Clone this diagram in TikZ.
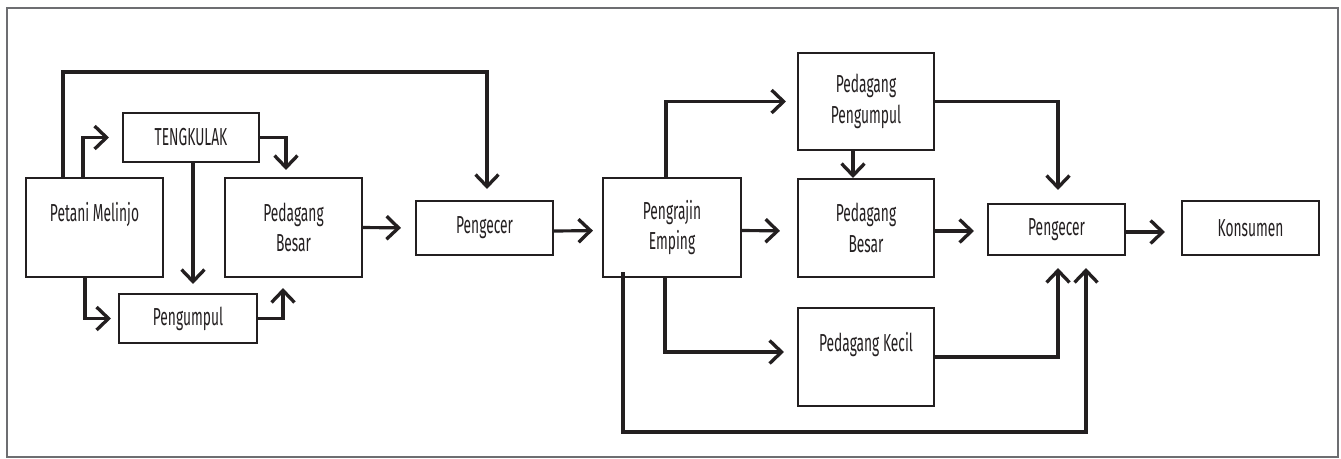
\documentclass[tikz,border=0pt]{standalone}
\usepackage{fontspec}
\setmainfont{Fira Sans}[FakeStretch=0.56]
\usetikzlibrary{arrows.meta,calc}

\definecolor{ink}{HTML}{231F20}
\definecolor{rim}{HTML}{6D6E71}

\tikzset{
  unit/.style={draw=ink, line width=1.2pt, align=center, inner sep=0pt,
    text=ink, font=\fontsize{14}{17.5}\selectfont,
    minimum width=2.74cm, minimum height=0.98cm},
  flow/.style={draw=ink, line width=1.8pt,
    -{Straight Barb[length=2.4mm,width=4.6mm,line width=1.9pt]}}
}

\begin{document}
\begin{tikzpicture}[x=0.02cm,y=-0.02cm]
  \useasboundingbox (0,0) rectangle (1341,458);
  \draw[rim, line width=1pt] (7,8) rectangle (1338,457);

  % first chain
  \node[unit, minimum height=1.98cm] (petani) at (94.5,227.5) {Petani Melinjo\\\mbox{}};
  \node[unit, minimum width=2.72cm] (tengkulak) at (191,137.5) {TENGKULAK};
  \node[unit, minimum height=1.98cm] (besarA) at (293.5,227.5) {Pedagang\\Besar};
  \node[unit, minimum width=2.76cm] (pengumpul) at (188,318.5) {Pengumpul};
  \node[unit, minimum height=1.08cm] (pengecerA) at (484.5,228) {Pengecer};

  % second chain
  \node[unit, minimum width=2.76cm, minimum height=1.98cm] (pengrajin) at (672,227.5) {Pengrajin\\Emping};
  \node[unit, minimum width=2.72cm, minimum height=1.94cm] (pedPengumpul) at (866,101.5) {Pedagang\\Pengumpul};
  \node[unit, minimum width=2.72cm, minimum height=1.96cm] (besarB) at (866,228) {Pedagang\\Besar};
  \node[unit, minimum width=2.72cm, minimum height=1.96cm] (kecil) at (866,357) {Pedagang Kecil\\\mbox{}};
  \node[unit, minimum height=1.02cm] (pengecerB) at (1056.5,229.5) {Pengecer};
  \node[unit, minimum height=1.08cm] (konsumen) at (1250.5,228) {Konsumen};

  % petani to traders
  \draw[flow, shorten >=2.6mm] ([xshift=11.6mm]petani.north west) |- (tengkulak.west);
  \draw[flow, shorten >=1.4mm] (tengkulak.east) -| ([xshift=-1.5mm]besarA.north);
  \draw[flow, shorten >=1.8mm] ([xshift=0.4mm]tengkulak.south) -- ([xshift=0.4mm]tengkulak.south |- pengumpul.north);
  \draw[flow, shorten >=1.4mm] ([xshift=12mm]petani.south west) |- (pengumpul.west);
  \draw[flow, shorten >=2mm] (pengumpul.east) -| ([xshift=-2.1mm]besarA.south);
  \draw[flow, shorten >=2.8mm] (besarA.east) -- (pengecerA.west);
  \draw[flow, shorten >=2.2mm] ([xshift=7.6mm]petani.north west) -- ++(0,-105) -| ([xshift=0.5mm]pengecerA.north);
  \draw[flow, shorten >=1.8mm] ([yshift=-0.6mm]pengecerA.east) -- ([yshift=-0.6mm]pengrajin.west);

  % pengrajin to traders
  \draw[flow, shorten >=2.2mm] ([xshift=-1.2mm]pengrajin.north) |- (pedPengumpul.west);
  \draw[flow, shorten >=3.4mm] ([yshift=-0.6mm]pengrajin.east) -- ([yshift=-0.6mm]besarB.west);
  \draw[flow, shorten >=2.6mm] ([xshift=-1.4mm]pengrajin.south) |- ([yshift=1mm]kecil.west);
  \draw[flow] ([xshift=-2.6mm]pedPengumpul.south) -- ([xshift=-2.6mm]besarB.north);

  % traders to pengecer and konsumen
  \draw[flow, shorten >=2.6mm] (pedPengumpul.east) -| ([xshift=0.3mm]pengecerB.north);
  \draw[flow, shorten >=2.6mm] ([yshift=-0.6mm]besarB.east) -- ([yshift=-0.6mm]besarB.east -| pengecerB.west);
  \draw[flow, shorten >=3.2mm] ([yshift=-0.5mm]pengecerB.east) -- ([yshift=-0.5mm]pengecerB.east -| konsumen.west);
  \draw[flow, shorten >=2.4mm] (kecil.east) -| ([xshift=0.3mm]pengecerB.south);
  \coordinate (loopEnd) at (1086,432);
  \draw[flow, shorten >=2.4mm] ([xshift=-9.8mm,yshift=1.2mm]pengrajin.south) |- (loopEnd) -- (loopEnd |- pengecerB.south);
\end{tikzpicture}
\end{document}
